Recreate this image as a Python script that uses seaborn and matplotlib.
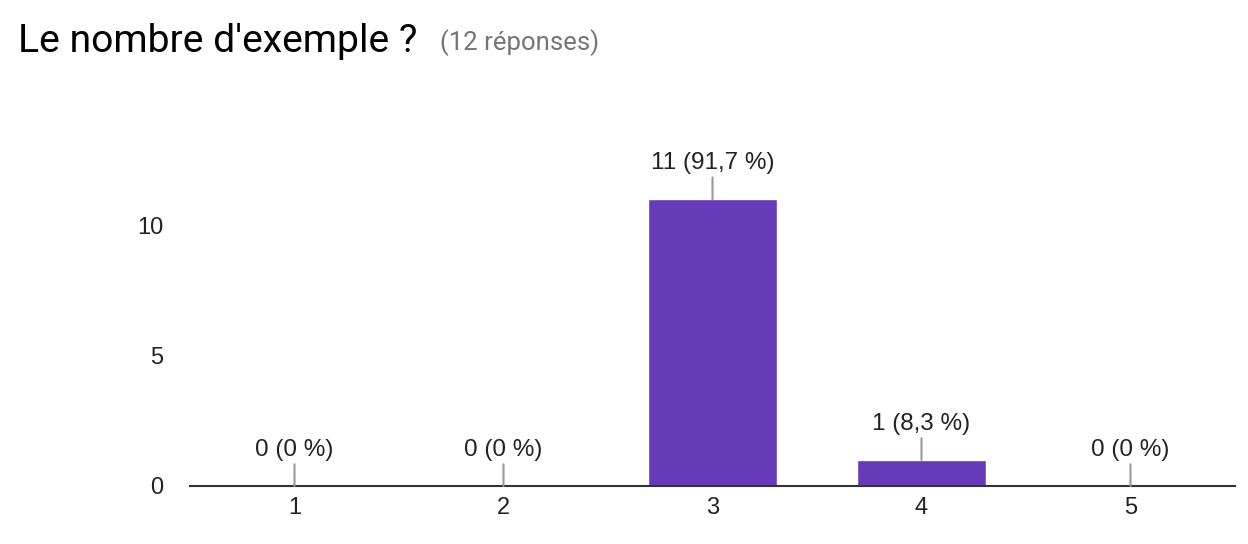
#!/usr/bin/env python3
import matplotlib
matplotlib.use("Agg")
import matplotlib.pyplot as plt
import pandas as pd
import seaborn as sns

title = "Le nombre d'exemple ?"
subtitle = "(12 réponses)"
categories = ["1", "2", "3", "4", "5"]
counts = [0, 0, 11, 1, 0]

sns.set_style("white")
plt.rcParams["font.family"] = ["Liberation Sans", "DejaVu Sans"]

data = pd.DataFrame({"Note": categories, "Réponses": counts})
total = sum(counts)

fig = plt.figure(figsize=(12.48, 5.44), dpi=100)
ax = fig.add_axes([190 / 1248, 1 - 486 / 544, 1045 / 1248, 339 / 544])

sns.barplot(
    x="Note", y="Réponses", data=data,
    color="#673ab7", saturation=1, width=0.62, ax=ax
)

ax.set_xlim(-0.5, 4.5)
ax.set_ylim(0, 13)
ax.set_yticks([0, 5, 10])
ax.xaxis.label.set_visible(False)
ax.yaxis.label.set_visible(False)
ax.tick_params(axis="both", length=0, labelsize=17, colors="#222222")
ax.tick_params(axis="y", pad=19)
ax.tick_params(axis="x", pad=8)
for side in ["top", "right", "left"]:
    ax.spines[side].set_visible(False)
ax.spines["bottom"].set_color("#333333")
ax.spines["bottom"].set_linewidth(1.5)

# Value labels with a small grey stem, as in Google Forms.
for i, c in enumerate(counts):
    pct = c / total * 100
    pct_txt = "0" if c == 0 else "{:.1f}".format(pct).replace(".", ",")
    ax.annotate(
        "{} ({} %)".format(c, pct_txt),
        xy=(i, c), xytext=(0, 18), textcoords="offset points",
        ha="center", va="bottom", fontsize=17.5, color="#222222",
        arrowprops=dict(arrowstyle="-", color="#999999", lw=1.5,
                        shrinkA=0, shrinkB=0),
    )

fig.text(18 / 1248, 1 - 52 / 544, title, fontsize=28.2,
         family=["Roboto", "DejaVu Sans"], color="#000000", va="baseline")
fig.text(440 / 1248, 1 - 50 / 544, subtitle, fontsize=18.5,
         family=["Roboto", "DejaVu Sans"], color="#757575", va="baseline")

fig.savefig("out.png", dpi=100)
